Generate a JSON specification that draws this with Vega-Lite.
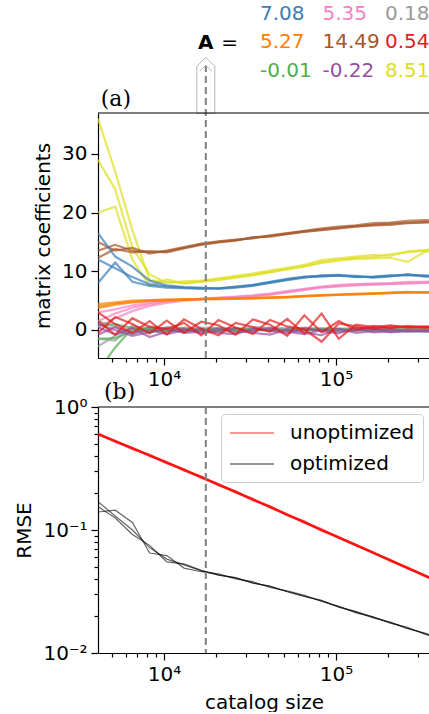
{
"$schema":"https://vega.github.io/schema/vega-lite/v6.json",
"background":"white",
"padding":{"left":14,"top":3,"right":0,"bottom":0},
"config":{"view":{"stroke":null},"font":"DejaVu Sans",
"axis":{"labelFont":"DejaVu Sans","titleFont":"DejaVu Sans","labelFontSize":20,"titleFontSize":20,"titleFontWeight":"normal","labelColor":"#000","titleColor":"#000","domainColor":"#000","tickColor":"#000","domainWidth":1.2,"tickWidth":1.2,"grid":false,"labelFlush":false,"labelOverlap":false},
"text":{"font":"DejaVu Sans"}},
"datasets":{
"matrix":[{"c":"A11","row":0,"col":0,"label":"7.08"},{"c":"A12","row":0,"col":1,"label":"5.35"},{"c":"A13","row":0,"col":2,"label":"0.18"},{"c":"A21","row":1,"col":0,"label":"5.27"},{"c":"A22","row":1,"col":1,"label":"14.49"},{"c":"A23","row":1,"col":2,"label":"0.54"},{"c":"A31","row":2,"col":0,"label":"-0.01"},{"c":"A32","row":2,"col":1,"label":"-0.22"},{"c":"A33","row":2,"col":2,"label":"8.51"}],
"coef":[
{"c":"A33","r":0,"n":4133,"v":36},{"c":"A33","r":0,"n":5203,"v":27},{"c":"A33","r":0,"n":6550,"v":17},{"c":"A33","r":0,"n":8246,"v":8.5},{"c":"A33","r":0,"n":10381,"v":8.2},{"c":"A33","r":0,"n":13069,"v":8},{"c":"A33","r":0,"n":16453,"v":8.3},{"c":"A33","r":0,"n":20713,"v":8.6},{"c":"A33","r":0,"n":26076,"v":9},{"c":"A33","r":0,"n":32827,"v":9.4},{"c":"A33","r":0,"n":41327,"v":9.9},{"c":"A33","r":0,"n":52028,"v":10.4},{"c":"A33","r":0,"n":65499,"v":10.9},{"c":"A33","r":0,"n":82459,"v":11.6},{"c":"A33","r":0,"n":103810,"v":12},{"c":"A33","r":0,"n":130690,"v":12.3},{"c":"A33","r":0,"n":164530,"v":12.4},{"c":"A33","r":0,"n":207130,"v":12.9},{"c":"A33","r":0,"n":260760,"v":13.2},{"c":"A33","r":0,"n":328280,"v":13.5},{"c":"A33","r":0,"n":413280,"v":13.8},
{"c":"A33","r":1,"n":4133,"v":29},{"c":"A33","r":1,"n":5203,"v":24},{"c":"A33","r":1,"n":6550,"v":14},{"c":"A33","r":1,"n":8246,"v":9.5},{"c":"A33","r":1,"n":10381,"v":8},{"c":"A33","r":1,"n":13069,"v":8.3},{"c":"A33","r":1,"n":16453,"v":8.4},{"c":"A33","r":1,"n":20713,"v":8.8},{"c":"A33","r":1,"n":26076,"v":9.2},{"c":"A33","r":1,"n":32827,"v":9.6},{"c":"A33","r":1,"n":41327,"v":10.1},{"c":"A33","r":1,"n":52028,"v":10.6},{"c":"A33","r":1,"n":65499,"v":11.1},{"c":"A33","r":1,"n":82459,"v":11.9},{"c":"A33","r":1,"n":103810,"v":12.2},{"c":"A33","r":1,"n":130690,"v":12.5},{"c":"A33","r":1,"n":164530,"v":12.8},{"c":"A33","r":1,"n":207130,"v":12.6},{"c":"A33","r":1,"n":260760,"v":13.4},{"c":"A33","r":1,"n":328280,"v":13.6},{"c":"A33","r":1,"n":413280,"v":13.9},
{"c":"A33","r":2,"n":4133,"v":20},{"c":"A33","r":2,"n":5203,"v":21},{"c":"A33","r":2,"n":6550,"v":12},{"c":"A33","r":2,"n":8246,"v":7.5},{"c":"A33","r":2,"n":10381,"v":8.6},{"c":"A33","r":2,"n":13069,"v":7.9},{"c":"A33","r":2,"n":16453,"v":8.2},{"c":"A33","r":2,"n":20713,"v":8.5},{"c":"A33","r":2,"n":26076,"v":8.9},{"c":"A33","r":2,"n":32827,"v":9.3},{"c":"A33","r":2,"n":41327,"v":9.8},{"c":"A33","r":2,"n":52028,"v":10.3},{"c":"A33","r":2,"n":65499,"v":10.8},{"c":"A33","r":2,"n":82459,"v":11.4},{"c":"A33","r":2,"n":103810,"v":11.8},{"c":"A33","r":2,"n":130690,"v":12.1},{"c":"A33","r":2,"n":164530,"v":12.2},{"c":"A33","r":2,"n":207130,"v":12.3},{"c":"A33","r":2,"n":260760,"v":11.6},{"c":"A33","r":2,"n":328280,"v":13.3},{"c":"A33","r":2,"n":413280,"v":13.6},
{"c":"A22","r":0,"n":4133,"v":13.5},{"c":"A22","r":0,"n":5203,"v":14.5},{"c":"A22","r":0,"n":6550,"v":13.5},{"c":"A22","r":0,"n":8246,"v":13.3},{"c":"A22","r":0,"n":10381,"v":13.4},{"c":"A22","r":0,"n":13069,"v":14},{"c":"A22","r":0,"n":16453,"v":14.6},{"c":"A22","r":0,"n":20713,"v":15},{"c":"A22","r":0,"n":26076,"v":15.3},{"c":"A22","r":0,"n":32827,"v":15.7},{"c":"A22","r":0,"n":41327,"v":16},{"c":"A22","r":0,"n":52028,"v":16.4},{"c":"A22","r":0,"n":65499,"v":16.8},{"c":"A22","r":0,"n":82459,"v":17.1},{"c":"A22","r":0,"n":103810,"v":17.4},{"c":"A22","r":0,"n":130690,"v":17.7},{"c":"A22","r":0,"n":164530,"v":17.9},{"c":"A22","r":0,"n":207130,"v":18.1},{"c":"A22","r":0,"n":260760,"v":18.3},{"c":"A22","r":0,"n":328280,"v":18.4},{"c":"A22","r":0,"n":413280,"v":18.5},
{"c":"A22","r":1,"n":4133,"v":15},{"c":"A22","r":1,"n":5203,"v":13.5},{"c":"A22","r":1,"n":6550,"v":14},{"c":"A22","r":1,"n":8246,"v":13},{"c":"A22","r":1,"n":10381,"v":13.5},{"c":"A22","r":1,"n":13069,"v":14.1},{"c":"A22","r":1,"n":16453,"v":14.7},{"c":"A22","r":1,"n":20713,"v":15.1},{"c":"A22","r":1,"n":26076,"v":15.4},{"c":"A22","r":1,"n":32827,"v":15.6},{"c":"A22","r":1,"n":41327,"v":16.1},{"c":"A22","r":1,"n":52028,"v":16.5},{"c":"A22","r":1,"n":65499,"v":16.9},{"c":"A22","r":1,"n":82459,"v":17.3},{"c":"A22","r":1,"n":103810,"v":17.6},{"c":"A22","r":1,"n":130690,"v":17.8},{"c":"A22","r":1,"n":164530,"v":18.2},{"c":"A22","r":1,"n":207130,"v":18.3},{"c":"A22","r":1,"n":260760,"v":18.6},{"c":"A22","r":1,"n":328280,"v":18.7},{"c":"A22","r":1,"n":413280,"v":18.6},
{"c":"A22","r":2,"n":4133,"v":12.3},{"c":"A22","r":2,"n":5203,"v":13.8},{"c":"A22","r":2,"n":6550,"v":13.2},{"c":"A22","r":2,"n":8246,"v":13.4},{"c":"A22","r":2,"n":10381,"v":13.2},{"c":"A22","r":2,"n":13069,"v":13.9},{"c":"A22","r":2,"n":16453,"v":14.5},{"c":"A22","r":2,"n":20713,"v":14.9},{"c":"A22","r":2,"n":26076,"v":15.2},{"c":"A22","r":2,"n":32827,"v":15.8},{"c":"A22","r":2,"n":41327,"v":15.9},{"c":"A22","r":2,"n":52028,"v":16.3},{"c":"A22","r":2,"n":65499,"v":16.7},{"c":"A22","r":2,"n":82459,"v":17},{"c":"A22","r":2,"n":103810,"v":17.3},{"c":"A22","r":2,"n":130690,"v":17.6},{"c":"A22","r":2,"n":164530,"v":17.8},{"c":"A22","r":2,"n":207130,"v":17.9},{"c":"A22","r":2,"n":260760,"v":18.2},{"c":"A22","r":2,"n":328280,"v":18.3},{"c":"A22","r":2,"n":413280,"v":18.4},
{"c":"A11","r":0,"n":4133,"v":12},{"c":"A11","r":0,"n":5203,"v":10.5},{"c":"A11","r":0,"n":6550,"v":9},{"c":"A11","r":0,"n":8246,"v":7.8},{"c":"A11","r":0,"n":10381,"v":7.4},{"c":"A11","r":0,"n":13069,"v":7.2},{"c":"A11","r":0,"n":16453,"v":7.1},{"c":"A11","r":0,"n":20713,"v":7.1},{"c":"A11","r":0,"n":26076,"v":7.3},{"c":"A11","r":0,"n":32827,"v":7.6},{"c":"A11","r":0,"n":41327,"v":8.1},{"c":"A11","r":0,"n":52028,"v":8.6},{"c":"A11","r":0,"n":65499,"v":9},{"c":"A11","r":0,"n":82459,"v":9.2},{"c":"A11","r":0,"n":103810,"v":9.2},{"c":"A11","r":0,"n":130690,"v":9.1},{"c":"A11","r":0,"n":164530,"v":9},{"c":"A11","r":0,"n":207130,"v":9.2},{"c":"A11","r":0,"n":260760,"v":9.4},{"c":"A11","r":0,"n":328280,"v":9.2},{"c":"A11","r":0,"n":413280,"v":9.1},
{"c":"A11","r":1,"n":4133,"v":16.5},{"c":"A11","r":1,"n":5203,"v":12.5},{"c":"A11","r":1,"n":6550,"v":10.8},{"c":"A11","r":1,"n":8246,"v":8.4},{"c":"A11","r":1,"n":10381,"v":7.6},{"c":"A11","r":1,"n":13069,"v":7.3},{"c":"A11","r":1,"n":16453,"v":7.2},{"c":"A11","r":1,"n":20713,"v":7},{"c":"A11","r":1,"n":26076,"v":7.2},{"c":"A11","r":1,"n":32827,"v":7.5},{"c":"A11","r":1,"n":41327,"v":8},{"c":"A11","r":1,"n":52028,"v":8.5},{"c":"A11","r":1,"n":65499,"v":8.9},{"c":"A11","r":1,"n":82459,"v":9.3},{"c":"A11","r":1,"n":103810,"v":9.4},{"c":"A11","r":1,"n":130690,"v":9},{"c":"A11","r":1,"n":164530,"v":9.1},{"c":"A11","r":1,"n":207130,"v":9.3},{"c":"A11","r":1,"n":260760,"v":9.3},{"c":"A11","r":1,"n":328280,"v":9.3},{"c":"A11","r":1,"n":413280,"v":9.2},
{"c":"A11","r":2,"n":4133,"v":8},{"c":"A11","r":2,"n":5203,"v":11.5},{"c":"A11","r":2,"n":6550,"v":8.2},{"c":"A11","r":2,"n":8246,"v":7.5},{"c":"A11","r":2,"n":10381,"v":7.2},{"c":"A11","r":2,"n":13069,"v":7.1},{"c":"A11","r":2,"n":16453,"v":7},{"c":"A11","r":2,"n":20713,"v":7.1},{"c":"A11","r":2,"n":26076,"v":7.4},{"c":"A11","r":2,"n":32827,"v":7.7},{"c":"A11","r":2,"n":41327,"v":8.2},{"c":"A11","r":2,"n":52028,"v":8.7},{"c":"A11","r":2,"n":65499,"v":9.1},{"c":"A11","r":2,"n":82459,"v":9.1},{"c":"A11","r":2,"n":103810,"v":9.3},{"c":"A11","r":2,"n":130690,"v":9.2},{"c":"A11","r":2,"n":164530,"v":8.9},{"c":"A11","r":2,"n":207130,"v":9.1},{"c":"A11","r":2,"n":260760,"v":9.5},{"c":"A11","r":2,"n":328280,"v":9.1},{"c":"A11","r":2,"n":413280,"v":9},
{"c":"A12","r":0,"n":4133,"v":1.5},{"c":"A12","r":0,"n":5203,"v":2.8},{"c":"A12","r":0,"n":6550,"v":3.8},{"c":"A12","r":0,"n":8246,"v":4.4},{"c":"A12","r":0,"n":10381,"v":4.8},{"c":"A12","r":0,"n":13069,"v":5.1},{"c":"A12","r":0,"n":16453,"v":5.3},{"c":"A12","r":0,"n":20713,"v":5.4},{"c":"A12","r":0,"n":26076,"v":5.6},{"c":"A12","r":0,"n":32827,"v":5.8},{"c":"A12","r":0,"n":41327,"v":6.1},{"c":"A12","r":0,"n":52028,"v":6.5},{"c":"A12","r":0,"n":65499,"v":6.9},{"c":"A12","r":0,"n":82459,"v":7.3},{"c":"A12","r":0,"n":103810,"v":7.5},{"c":"A12","r":0,"n":130690,"v":7.7},{"c":"A12","r":0,"n":164530,"v":7.8},{"c":"A12","r":0,"n":207130,"v":7.9},{"c":"A12","r":0,"n":260760,"v":8},{"c":"A12","r":0,"n":328280,"v":8.1},{"c":"A12","r":0,"n":413280,"v":8.2},
{"c":"A12","r":1,"n":4133,"v":3},{"c":"A12","r":1,"n":5203,"v":3.5},{"c":"A12","r":1,"n":6550,"v":4.2},{"c":"A12","r":1,"n":8246,"v":4.6},{"c":"A12","r":1,"n":10381,"v":5},{"c":"A12","r":1,"n":13069,"v":5.2},{"c":"A12","r":1,"n":16453,"v":5.3},{"c":"A12","r":1,"n":20713,"v":5.5},{"c":"A12","r":1,"n":26076,"v":5.7},{"c":"A12","r":1,"n":32827,"v":5.9},{"c":"A12","r":1,"n":41327,"v":6.2},{"c":"A12","r":1,"n":52028,"v":6.6},{"c":"A12","r":1,"n":65499,"v":7},{"c":"A12","r":1,"n":82459,"v":7.4},{"c":"A12","r":1,"n":103810,"v":7.7},{"c":"A12","r":1,"n":130690,"v":7.8},{"c":"A12","r":1,"n":164530,"v":7.9},{"c":"A12","r":1,"n":207130,"v":8},{"c":"A12","r":1,"n":260760,"v":8.2},{"c":"A12","r":1,"n":328280,"v":8.2},{"c":"A12","r":1,"n":413280,"v":8.3},
{"c":"A12","r":2,"n":4133,"v":0.5},{"c":"A12","r":2,"n":5203,"v":2},{"c":"A12","r":2,"n":6550,"v":3.2},{"c":"A12","r":2,"n":8246,"v":4.1},{"c":"A12","r":2,"n":10381,"v":4.6},{"c":"A12","r":2,"n":13069,"v":5},{"c":"A12","r":2,"n":16453,"v":5.2},{"c":"A12","r":2,"n":20713,"v":5.4},{"c":"A12","r":2,"n":26076,"v":5.5},{"c":"A12","r":2,"n":32827,"v":5.7},{"c":"A12","r":2,"n":41327,"v":6},{"c":"A12","r":2,"n":52028,"v":6.4},{"c":"A12","r":2,"n":65499,"v":6.8},{"c":"A12","r":2,"n":82459,"v":7.2},{"c":"A12","r":2,"n":103810,"v":7.4},{"c":"A12","r":2,"n":130690,"v":7.6},{"c":"A12","r":2,"n":164530,"v":7.7},{"c":"A12","r":2,"n":207130,"v":7.8},{"c":"A12","r":2,"n":260760,"v":7.9},{"c":"A12","r":2,"n":328280,"v":8},{"c":"A12","r":2,"n":413280,"v":8.1},
{"c":"A21","r":0,"n":4133,"v":4},{"c":"A21","r":0,"n":5203,"v":4.5},{"c":"A21","r":0,"n":6550,"v":4.8},{"c":"A21","r":0,"n":8246,"v":5},{"c":"A21","r":0,"n":10381,"v":5.1},{"c":"A21","r":0,"n":13069,"v":5.2},{"c":"A21","r":0,"n":16453,"v":5.25},{"c":"A21","r":0,"n":20713,"v":5.3},{"c":"A21","r":0,"n":26076,"v":5.35},{"c":"A21","r":0,"n":32827,"v":5.4},{"c":"A21","r":0,"n":41327,"v":5.5},{"c":"A21","r":0,"n":52028,"v":5.6},{"c":"A21","r":0,"n":65499,"v":5.75},{"c":"A21","r":0,"n":82459,"v":5.9},{"c":"A21","r":0,"n":103810,"v":6},{"c":"A21","r":0,"n":130690,"v":6.1},{"c":"A21","r":0,"n":164530,"v":6.2},{"c":"A21","r":0,"n":207130,"v":6.3},{"c":"A21","r":0,"n":260760,"v":6.4},{"c":"A21","r":0,"n":328280,"v":6.4},{"c":"A21","r":0,"n":413280,"v":6.5},
{"c":"A21","r":1,"n":4133,"v":4.4},{"c":"A21","r":1,"n":5203,"v":4.7},{"c":"A21","r":1,"n":6550,"v":5},{"c":"A21","r":1,"n":8246,"v":5.1},{"c":"A21","r":1,"n":10381,"v":5.2},{"c":"A21","r":1,"n":13069,"v":5.2},{"c":"A21","r":1,"n":16453,"v":5.3},{"c":"A21","r":1,"n":20713,"v":5.35},{"c":"A21","r":1,"n":26076,"v":5.4},{"c":"A21","r":1,"n":32827,"v":5.45},{"c":"A21","r":1,"n":41327,"v":5.55},{"c":"A21","r":1,"n":52028,"v":5.65},{"c":"A21","r":1,"n":65499,"v":5.8},{"c":"A21","r":1,"n":82459,"v":5.95},{"c":"A21","r":1,"n":103810,"v":6.05},{"c":"A21","r":1,"n":130690,"v":6.15},{"c":"A21","r":1,"n":164530,"v":6.25},{"c":"A21","r":1,"n":207130,"v":6.35},{"c":"A21","r":1,"n":260760,"v":6.5},{"c":"A21","r":1,"n":328280,"v":6.3},{"c":"A21","r":1,"n":413280,"v":6.4},
{"c":"A21","r":2,"n":4133,"v":3.7},{"c":"A21","r":2,"n":5203,"v":4.3},{"c":"A21","r":2,"n":6550,"v":4.7},{"c":"A21","r":2,"n":8246,"v":4.9},{"c":"A21","r":2,"n":10381,"v":5},{"c":"A21","r":2,"n":13069,"v":5.15},{"c":"A21","r":2,"n":16453,"v":5.2},{"c":"A21","r":2,"n":20713,"v":5.25},{"c":"A21","r":2,"n":26076,"v":5.3},{"c":"A21","r":2,"n":32827,"v":5.35},{"c":"A21","r":2,"n":41327,"v":5.45},{"c":"A21","r":2,"n":52028,"v":5.55},{"c":"A21","r":2,"n":65499,"v":5.7},{"c":"A21","r":2,"n":82459,"v":5.85},{"c":"A21","r":2,"n":103810,"v":5.95},{"c":"A21","r":2,"n":130690,"v":6.05},{"c":"A21","r":2,"n":164530,"v":6.15},{"c":"A21","r":2,"n":207130,"v":6.25},{"c":"A21","r":2,"n":260760,"v":6.35},{"c":"A21","r":2,"n":328280,"v":6.45},{"c":"A21","r":2,"n":413280,"v":6.5},
{"c":"A13","r":0,"n":4133,"v":-2.8},{"c":"A13","r":0,"n":5203,"v":-1},{"c":"A13","r":0,"n":6550,"v":0.5},{"c":"A13","r":0,"n":8246,"v":0.3},{"c":"A13","r":0,"n":10381,"v":0},{"c":"A13","r":0,"n":13069,"v":0.4},{"c":"A13","r":0,"n":16453,"v":0.2},{"c":"A13","r":0,"n":20713,"v":0.1},{"c":"A13","r":0,"n":26076,"v":0.3},{"c":"A13","r":0,"n":32827,"v":0.2},{"c":"A13","r":0,"n":41327,"v":0},{"c":"A13","r":0,"n":52028,"v":0.3},{"c":"A13","r":0,"n":65499,"v":0.2},{"c":"A13","r":0,"n":82459,"v":0.1},{"c":"A13","r":0,"n":103810,"v":0.2},{"c":"A13","r":0,"n":130690,"v":0.3},{"c":"A13","r":0,"n":164530,"v":0.2},{"c":"A13","r":0,"n":207130,"v":0.1},{"c":"A13","r":0,"n":260760,"v":0.2},{"c":"A13","r":0,"n":328280,"v":0.2},{"c":"A13","r":0,"n":413280,"v":0.2},
{"c":"A13","r":1,"n":4133,"v":1.5},{"c":"A13","r":1,"n":5203,"v":0.5},{"c":"A13","r":1,"n":6550,"v":-0.8},{"c":"A13","r":1,"n":8246,"v":0.6},{"c":"A13","r":1,"n":10381,"v":0.2},{"c":"A13","r":1,"n":13069,"v":-0.2},{"c":"A13","r":1,"n":16453,"v":0.4},{"c":"A13","r":1,"n":20713,"v":0.3},{"c":"A13","r":1,"n":26076,"v":-0.1},{"c":"A13","r":1,"n":32827,"v":0.5},{"c":"A13","r":1,"n":41327,"v":0.3},{"c":"A13","r":1,"n":52028,"v":0.1},{"c":"A13","r":1,"n":65499,"v":0.4},{"c":"A13","r":1,"n":82459,"v":0.2},{"c":"A13","r":1,"n":103810,"v":0.1},{"c":"A13","r":1,"n":130690,"v":0.2},{"c":"A13","r":1,"n":164530,"v":0.3},{"c":"A13","r":1,"n":207130,"v":0.2},{"c":"A13","r":1,"n":260760,"v":0.1},{"c":"A13","r":1,"n":328280,"v":0.2},{"c":"A13","r":1,"n":413280,"v":0.1},
{"c":"A13","r":2,"n":4133,"v":-1.5},{"c":"A13","r":2,"n":5203,"v":-1.8},{"c":"A13","r":2,"n":6550,"v":0.8},{"c":"A13","r":2,"n":8246,"v":-0.3},{"c":"A13","r":2,"n":10381,"v":0.5},{"c":"A13","r":2,"n":13069,"v":0.3},{"c":"A13","r":2,"n":16453,"v":0},{"c":"A13","r":2,"n":20713,"v":0.4},{"c":"A13","r":2,"n":26076,"v":0.2},{"c":"A13","r":2,"n":32827,"v":0.1},{"c":"A13","r":2,"n":41327,"v":0.4},{"c":"A13","r":2,"n":52028,"v":0.2},{"c":"A13","r":2,"n":65499,"v":0},{"c":"A13","r":2,"n":82459,"v":0.3},{"c":"A13","r":2,"n":103810,"v":0.2},{"c":"A13","r":2,"n":130690,"v":0.1},{"c":"A13","r":2,"n":164530,"v":0.2},{"c":"A13","r":2,"n":207130,"v":0.3},{"c":"A13","r":2,"n":260760,"v":0.2},{"c":"A13","r":2,"n":328280,"v":0.1},{"c":"A13","r":2,"n":413280,"v":0.2},
{"c":"A31","r":0,"n":4133,"v":-7},{"c":"A31","r":0,"n":5203,"v":-3},{"c":"A31","r":0,"n":6550,"v":0.3},{"c":"A31","r":0,"n":8246,"v":0},{"c":"A31","r":0,"n":10381,"v":-0.2},{"c":"A31","r":0,"n":13069,"v":0.1},{"c":"A31","r":0,"n":16453,"v":-0.1},{"c":"A31","r":0,"n":20713,"v":0},{"c":"A31","r":0,"n":26076,"v":0.1},{"c":"A31","r":0,"n":32827,"v":-0.1},{"c":"A31","r":0,"n":41327,"v":0},{"c":"A31","r":0,"n":52028,"v":-0.1},{"c":"A31","r":0,"n":65499,"v":0},{"c":"A31","r":0,"n":82459,"v":0.1},{"c":"A31","r":0,"n":103810,"v":-0.1},{"c":"A31","r":0,"n":130690,"v":0},{"c":"A31","r":0,"n":164530,"v":0},{"c":"A31","r":0,"n":207130,"v":-0.1},{"c":"A31","r":0,"n":260760,"v":0},{"c":"A31","r":0,"n":328280,"v":0},{"c":"A31","r":0,"n":413280,"v":0},
{"c":"A31","r":1,"n":4133,"v":-1.5},{"c":"A31","r":1,"n":5203,"v":-1.4},{"c":"A31","r":1,"n":6550,"v":-0.2},{"c":"A31","r":1,"n":8246,"v":0.4},{"c":"A31","r":1,"n":10381,"v":0.1},{"c":"A31","r":1,"n":13069,"v":-0.3},{"c":"A31","r":1,"n":16453,"v":0},{"c":"A31","r":1,"n":20713,"v":0.2},{"c":"A31","r":1,"n":26076,"v":-0.1},{"c":"A31","r":1,"n":32827,"v":0.1},{"c":"A31","r":1,"n":41327,"v":-0.1},{"c":"A31","r":1,"n":52028,"v":0},{"c":"A31","r":1,"n":65499,"v":0.1},{"c":"A31","r":1,"n":82459,"v":-0.1},{"c":"A31","r":1,"n":103810,"v":0},{"c":"A31","r":1,"n":130690,"v":0.1},{"c":"A31","r":1,"n":164530,"v":-0.1},{"c":"A31","r":1,"n":207130,"v":0},{"c":"A31","r":1,"n":260760,"v":0},{"c":"A31","r":1,"n":328280,"v":0},{"c":"A31","r":1,"n":413280,"v":-0.1},
{"c":"A31","r":2,"n":4133,"v":0.8},{"c":"A31","r":2,"n":5203,"v":1},{"c":"A31","r":2,"n":6550,"v":0.3},{"c":"A31","r":2,"n":8246,"v":-0.4},{"c":"A31","r":2,"n":10381,"v":0},{"c":"A31","r":2,"n":13069,"v":0.2},{"c":"A31","r":2,"n":16453,"v":-0.1},{"c":"A31","r":2,"n":20713,"v":-0.2},{"c":"A31","r":2,"n":26076,"v":0.1},{"c":"A31","r":2,"n":32827,"v":0},{"c":"A31","r":2,"n":41327,"v":0.1},{"c":"A31","r":2,"n":52028,"v":-0.1},{"c":"A31","r":2,"n":65499,"v":0},{"c":"A31","r":2,"n":82459,"v":0},{"c":"A31","r":2,"n":103810,"v":0.1},{"c":"A31","r":2,"n":130690,"v":-0.1},{"c":"A31","r":2,"n":164530,"v":0},{"c":"A31","r":2,"n":207130,"v":0.1},{"c":"A31","r":2,"n":260760,"v":-0.1},{"c":"A31","r":2,"n":328280,"v":0},{"c":"A31","r":2,"n":413280,"v":0},
{"c":"A32","r":0,"n":4133,"v":0.5},{"c":"A32","r":0,"n":5203,"v":-0.8},{"c":"A32","r":0,"n":6550,"v":0.3},{"c":"A32","r":0,"n":8246,"v":-1.2},{"c":"A32","r":0,"n":10381,"v":-0.3},{"c":"A32","r":0,"n":13069,"v":0.2},{"c":"A32","r":0,"n":16453,"v":-0.6},{"c":"A32","r":0,"n":20713,"v":-0.2},{"c":"A32","r":0,"n":26076,"v":0.3},{"c":"A32","r":0,"n":32827,"v":-0.5},{"c":"A32","r":0,"n":41327,"v":-0.8},{"c":"A32","r":0,"n":52028,"v":0.1},{"c":"A32","r":0,"n":65499,"v":-0.4},{"c":"A32","r":0,"n":82459,"v":-0.9},{"c":"A32","r":0,"n":103810,"v":0.2},{"c":"A32","r":0,"n":130690,"v":-0.5},{"c":"A32","r":0,"n":164530,"v":-0.2},{"c":"A32","r":0,"n":207130,"v":0.1},{"c":"A32","r":0,"n":260760,"v":-0.3},{"c":"A32","r":0,"n":328280,"v":-0.2},{"c":"A32","r":0,"n":413280,"v":-0.2},
{"c":"A32","r":1,"n":4133,"v":-0.8},{"c":"A32","r":1,"n":5203,"v":0.5},{"c":"A32","r":1,"n":6550,"v":-0.6},{"c":"A32","r":1,"n":8246,"v":0},{"c":"A32","r":1,"n":10381,"v":-0.7},{"c":"A32","r":1,"n":13069,"v":-0.1},{"c":"A32","r":1,"n":16453,"v":0.1},{"c":"A32","r":1,"n":20713,"v":-0.5},{"c":"A32","r":1,"n":26076,"v":-0.7},{"c":"A32","r":1,"n":32827,"v":0.2},{"c":"A32","r":1,"n":41327,"v":-0.1},{"c":"A32","r":1,"n":52028,"v":-0.6},{"c":"A32","r":1,"n":65499,"v":0.3},{"c":"A32","r":1,"n":82459,"v":-0.2},{"c":"A32","r":1,"n":103810,"v":-0.6},{"c":"A32","r":1,"n":130690,"v":0.4},{"c":"A32","r":1,"n":164530,"v":-0.4},{"c":"A32","r":1,"n":207130,"v":-0.3},{"c":"A32","r":1,"n":260760,"v":-0.1},{"c":"A32","r":1,"n":328280,"v":-0.3},{"c":"A32","r":1,"n":413280,"v":-0.2},
{"c":"A32","r":2,"n":4133,"v":1},{"c":"A32","r":2,"n":5203,"v":0},{"c":"A32","r":2,"n":6550,"v":-1},{"c":"A32","r":2,"n":8246,"v":-0.4},{"c":"A32","r":2,"n":10381,"v":0.3},{"c":"A32","r":2,"n":13069,"v":-0.5},{"c":"A32","r":2,"n":16453,"v":-0.3},{"c":"A32","r":2,"n":20713,"v":0.2},{"c":"A32","r":2,"n":26076,"v":-0.4},{"c":"A32","r":2,"n":32827,"v":-0.2},{"c":"A32","r":2,"n":41327,"v":0.3},{"c":"A32","r":2,"n":52028,"v":-0.3},{"c":"A32","r":2,"n":65499,"v":-0.7},{"c":"A32","r":2,"n":82459,"v":0},{"c":"A32","r":2,"n":103810,"v":-0.3},{"c":"A32","r":2,"n":130690,"v":-0.1},{"c":"A32","r":2,"n":164530,"v":0.3},{"c":"A32","r":2,"n":207130,"v":-0.4},{"c":"A32","r":2,"n":260760,"v":-0.2},{"c":"A32","r":2,"n":328280,"v":-0.1},{"c":"A32","r":2,"n":413280,"v":-0.3},
{"c":"A23","r":0,"n":4133,"v":3},{"c":"A23","r":0,"n":5203,"v":1},{"c":"A23","r":0,"n":6550,"v":-0.5},{"c":"A23","r":0,"n":8246,"v":1.5},{"c":"A23","r":0,"n":10381,"v":-0.8},{"c":"A23","r":0,"n":13069,"v":1.8},{"c":"A23","r":0,"n":16453,"v":0.2},{"c":"A23","r":0,"n":20713,"v":-0.9},{"c":"A23","r":0,"n":26076,"v":1.2},{"c":"A23","r":0,"n":32827,"v":0.5},{"c":"A23","r":0,"n":41327,"v":-0.3},{"c":"A23","r":0,"n":52028,"v":1.9},{"c":"A23","r":0,"n":65499,"v":-0.6},{"c":"A23","r":0,"n":82459,"v":2.8},{"c":"A23","r":0,"n":103810,"v":-1.5},{"c":"A23","r":0,"n":130690,"v":0.9},{"c":"A23","r":0,"n":164530,"v":0.5},{"c":"A23","r":0,"n":207130,"v":0.8},{"c":"A23","r":0,"n":260760,"v":0.4},{"c":"A23","r":0,"n":328280,"v":0.6},{"c":"A23","r":0,"n":413280,"v":0.5},
{"c":"A23","r":1,"n":4133,"v":-0.5},{"c":"A23","r":1,"n":5203,"v":2.2},{"c":"A23","r":1,"n":6550,"v":1},{"c":"A23","r":1,"n":8246,"v":-0.6},{"c":"A23","r":1,"n":10381,"v":1.6},{"c":"A23","r":1,"n":13069,"v":-0.5},{"c":"A23","r":1,"n":16453,"v":1.4},{"c":"A23","r":1,"n":20713,"v":0.8},{"c":"A23","r":1,"n":26076,"v":-0.8},{"c":"A23","r":1,"n":32827,"v":1.8},{"c":"A23","r":1,"n":41327,"v":0.9},{"c":"A23","r":1,"n":52028,"v":-1},{"c":"A23","r":1,"n":65499,"v":2.5},{"c":"A23","r":1,"n":82459,"v":-0.4},{"c":"A23","r":1,"n":103810,"v":1.5},{"c":"A23","r":1,"n":130690,"v":0},{"c":"A23","r":1,"n":164530,"v":0.7},{"c":"A23","r":1,"n":207130,"v":0.3},{"c":"A23","r":1,"n":260760,"v":0.7},{"c":"A23","r":1,"n":328280,"v":0.5},{"c":"A23","r":1,"n":413280,"v":0.6},
{"c":"A23","r":2,"n":4133,"v":1.5},{"c":"A23","r":2,"n":5203,"v":-0.8},{"c":"A23","r":2,"n":6550,"v":2},{"c":"A23","r":2,"n":8246,"v":0.5},{"c":"A23","r":2,"n":10381,"v":0.2},{"c":"A23","r":2,"n":13069,"v":1.2},{"c":"A23","r":2,"n":16453,"v":-0.9},{"c":"A23","r":2,"n":20713,"v":1.7},{"c":"A23","r":2,"n":26076,"v":0.4},{"c":"A23","r":2,"n":32827,"v":-0.7},{"c":"A23","r":2,"n":41327,"v":1.7},{"c":"A23","r":2,"n":52028,"v":0.6},{"c":"A23","r":2,"n":65499,"v":0.1},{"c":"A23","r":2,"n":82459,"v":-2},{"c":"A23","r":2,"n":103810,"v":1.1},{"c":"A23","r":2,"n":130690,"v":0.6},{"c":"A23","r":2,"n":164530,"v":0.2},{"c":"A23","r":2,"n":207130,"v":0.6},{"c":"A23","r":2,"n":260760,"v":0.5},{"c":"A23","r":2,"n":328280,"v":0.4},{"c":"A23","r":2,"n":413280,"v":0.5}
],
"rmse":[
{"g":"unoptimized","r":0,"n":4133,"v":0.603},{"g":"unoptimized","r":0,"n":5203,"v":0.527},{"g":"unoptimized","r":0,"n":6550,"v":0.461},{"g":"unoptimized","r":0,"n":8246,"v":0.404},{"g":"unoptimized","r":0,"n":10381,"v":0.353},{"g":"unoptimized","r":0,"n":13069,"v":0.308},{"g":"unoptimized","r":0,"n":16453,"v":0.269},{"g":"unoptimized","r":0,"n":20713,"v":0.234},{"g":"unoptimized","r":0,"n":26076,"v":0.204},{"g":"unoptimized","r":0,"n":32827,"v":0.177},{"g":"unoptimized","r":0,"n":41327,"v":0.154},{"g":"unoptimized","r":0,"n":52028,"v":0.133},{"g":"unoptimized","r":0,"n":65499,"v":0.116},{"g":"unoptimized","r":0,"n":82459,"v":0.1},{"g":"unoptimized","r":0,"n":103810,"v":0.0869},{"g":"unoptimized","r":0,"n":130690,"v":0.0753},{"g":"unoptimized","r":0,"n":164530,"v":0.0653},{"g":"unoptimized","r":0,"n":207130,"v":0.0566},{"g":"unoptimized","r":0,"n":260760,"v":0.0491},{"g":"unoptimized","r":0,"n":328280,"v":0.0426},{"g":"unoptimized","r":0,"n":413280,"v":0.0369},
{"g":"unoptimized","r":1,"n":4133,"v":0.61},{"g":"unoptimized","r":1,"n":5203,"v":0.522},{"g":"unoptimized","r":1,"n":6550,"v":0.466},{"g":"unoptimized","r":1,"n":8246,"v":0.4},{"g":"unoptimized","r":1,"n":10381,"v":0.357},{"g":"unoptimized","r":1,"n":13069,"v":0.305},{"g":"unoptimized","r":1,"n":16453,"v":0.272},{"g":"unoptimized","r":1,"n":20713,"v":0.232},{"g":"unoptimized","r":1,"n":26076,"v":0.206},{"g":"unoptimized","r":1,"n":32827,"v":0.175},{"g":"unoptimized","r":1,"n":41327,"v":0.156},{"g":"unoptimized","r":1,"n":52028,"v":0.132},{"g":"unoptimized","r":1,"n":65499,"v":0.117},{"g":"unoptimized","r":1,"n":82459,"v":0.099},{"g":"unoptimized","r":1,"n":103810,"v":0.0876},{"g":"unoptimized","r":1,"n":130690,"v":0.0749},{"g":"unoptimized","r":1,"n":164530,"v":0.0657},{"g":"unoptimized","r":1,"n":207130,"v":0.0563},{"g":"unoptimized","r":1,"n":260760,"v":0.0494},{"g":"unoptimized","r":1,"n":328280,"v":0.0424},{"g":"unoptimized","r":1,"n":413280,"v":0.0371},
{"g":"unoptimized","r":2,"n":4133,"v":0.597},{"g":"unoptimized","r":2,"n":5203,"v":0.531},{"g":"unoptimized","r":2,"n":6550,"v":0.457},{"g":"unoptimized","r":2,"n":8246,"v":0.408},{"g":"unoptimized","r":2,"n":10381,"v":0.35},{"g":"unoptimized","r":2,"n":13069,"v":0.311},{"g":"unoptimized","r":2,"n":16453,"v":0.266},{"g":"unoptimized","r":2,"n":20713,"v":0.236},{"g":"unoptimized","r":2,"n":26076,"v":0.202},{"g":"unoptimized","r":2,"n":32827,"v":0.179},{"g":"unoptimized","r":2,"n":41327,"v":0.153},{"g":"unoptimized","r":2,"n":52028,"v":0.134},{"g":"unoptimized","r":2,"n":65499,"v":0.115},{"g":"unoptimized","r":2,"n":82459,"v":0.101},{"g":"unoptimized","r":2,"n":103810,"v":0.0864},{"g":"unoptimized","r":2,"n":130690,"v":0.0757},{"g":"unoptimized","r":2,"n":164530,"v":0.065},{"g":"unoptimized","r":2,"n":207130,"v":0.0569},{"g":"unoptimized","r":2,"n":260760,"v":0.0488},{"g":"unoptimized","r":2,"n":328280,"v":0.0428},{"g":"unoptimized","r":2,"n":413280,"v":0.0367},
{"g":"optimized","r":0,"n":4133,"v":0.17},{"g":"optimized","r":0,"n":5203,"v":0.13},{"g":"optimized","r":0,"n":6550,"v":0.1},{"g":"optimized","r":0,"n":8246,"v":0.072},{"g":"optimized","r":0,"n":10381,"v":0.058},{"g":"optimized","r":0,"n":13069,"v":0.052},{"g":"optimized","r":0,"n":16453,"v":0.0468},{"g":"optimized","r":0,"n":20713,"v":0.0432},{"g":"optimized","r":0,"n":26076,"v":0.0408},{"g":"optimized","r":0,"n":32827,"v":0.0372},{"g":"optimized","r":0,"n":41327,"v":0.0348},{"g":"optimized","r":0,"n":52028,"v":0.0316},{"g":"optimized","r":0,"n":65499,"v":0.029},{"g":"optimized","r":0,"n":82459,"v":0.0268},{"g":"optimized","r":0,"n":103810,"v":0.0236},{"g":"optimized","r":0,"n":130690,"v":0.0216},{"g":"optimized","r":0,"n":164530,"v":0.0193},{"g":"optimized","r":0,"n":207130,"v":0.0178},{"g":"optimized","r":0,"n":260760,"v":0.0159},{"g":"optimized","r":0,"n":328280,"v":0.0144},{"g":"optimized","r":0,"n":413280,"v":0.0131},
{"g":"optimized","r":1,"n":4133,"v":0.14},{"g":"optimized","r":1,"n":5203,"v":0.145},{"g":"optimized","r":1,"n":6550,"v":0.115},{"g":"optimized","r":1,"n":8246,"v":0.065},{"g":"optimized","r":1,"n":10381,"v":0.062},{"g":"optimized","r":1,"n":13069,"v":0.049},{"g":"optimized","r":1,"n":16453,"v":0.0458},{"g":"optimized","r":1,"n":20713,"v":0.044},{"g":"optimized","r":1,"n":26076,"v":0.04},{"g":"optimized","r":1,"n":32827,"v":0.038},{"g":"optimized","r":1,"n":41327,"v":0.0341},{"g":"optimized","r":1,"n":52028,"v":0.032},{"g":"optimized","r":1,"n":65499,"v":0.0295},{"g":"optimized","r":1,"n":82459,"v":0.0262},{"g":"optimized","r":1,"n":103810,"v":0.024},{"g":"optimized","r":1,"n":130690,"v":0.0212},{"g":"optimized","r":1,"n":164530,"v":0.0197},{"g":"optimized","r":1,"n":207130,"v":0.0175},{"g":"optimized","r":1,"n":260760,"v":0.0162},{"g":"optimized","r":1,"n":328280,"v":0.0142},{"g":"optimized","r":1,"n":413280,"v":0.0129},
{"g":"optimized","r":2,"n":4133,"v":0.155},{"g":"optimized","r":2,"n":5203,"v":0.125},{"g":"optimized","r":2,"n":6550,"v":0.092},{"g":"optimized","r":2,"n":8246,"v":0.075},{"g":"optimized","r":2,"n":10381,"v":0.055},{"g":"optimized","r":2,"n":13069,"v":0.053},{"g":"optimized","r":2,"n":16453,"v":0.047},{"g":"optimized","r":2,"n":20713,"v":0.043},{"g":"optimized","r":2,"n":26076,"v":0.041},{"g":"optimized","r":2,"n":32827,"v":0.037},{"g":"optimized","r":2,"n":41327,"v":0.035},{"g":"optimized","r":2,"n":52028,"v":0.0315},{"g":"optimized","r":2,"n":65499,"v":0.0288},{"g":"optimized","r":2,"n":82459,"v":0.0266},{"g":"optimized","r":2,"n":103810,"v":0.0237},{"g":"optimized","r":2,"n":130690,"v":0.0217},{"g":"optimized","r":2,"n":164530,"v":0.0196},{"g":"optimized","r":2,"n":207130,"v":0.0176},{"g":"optimized","r":2,"n":260760,"v":0.0158},{"g":"optimized","r":2,"n":328280,"v":0.0145},{"g":"optimized","r":2,"n":413280,"v":0.013}
]},
"vconcat":[
{"width":332,"height":245,
 "layer":[
  {"layer":[
   {"data":{"name":"coef"},
    "mark":{"type":"line","strokeWidth":2.2,"opacity":0.7,"clip":true},
    "encoding":{
     "x":{"field":"n","type":"quantitative","scale":{"type":"log","domain":[4133,352000],"nice":false},
      "axis":{"title":null,"values":[5000,6000,7000,8000,9000,10000,20000,30000,40000,50000,60000,70000,80000,90000,100000,200000,300000],
       "labelExpr":"datum.value == 10000 ? '10⁴' : datum.value == 100000 ? '10⁵' : ''",
       "tickSize":{"condition":{"test":"datum.value == 10000 || datum.value == 100000","value":7},"value":4},"labelPadding":4}},
     "y":{"field":"v","type":"quantitative","scale":{"domain":[-4.78,36.96],"nice":false,"zero":false},
      "axis":{"title":"matrix coefficients","values":[0,10,20,30],"tickSize":7,"labelPadding":4,"titlePadding":8}},
     "color":{"field":"c","type":"nominal","legend":null,
      "scale":{"domain":["A11","A12","A13","A21","A22","A23","A31","A32","A33"],"range":["#377eb8","#f781bf","#999999","#ff7f00","#a65628","#e41a1c","#4daf4a","#984ea3","#dede1e"]}},
     "detail":{"field":"r"}}},
   {"data":{"values":[{"n":17500}]},
    "mark":{"type":"point","shape":"M0,-1L0.321,-0.679L0.321,1L-0.321,1L-0.321,-0.679Z M-0.214,-0.5L0,-0.714L0.214,-0.5","size":3136,"filled":true,"fill":"white","stroke":"#b5b5b5","strokeWidth":1,"opacity":1,"clip":false},
    "encoding":{"x":{"field":"n","type":"quantitative","title":null},"y":{"datum":41.67}}},
   {"data":{"values":[{"n":17500}]},
    "mark":{"type":"rule","color":"#808080","strokeWidth":2,"strokeDash":[7,4],"clip":false},
    "encoding":{"x":{"field":"n","type":"quantitative","title":null},"y":{"datum":-4.78},"y2":{"datum":45}}},
   {"data":{"values":[{}]},"mark":{"type":"rule","color":"#000","strokeWidth":1.2},"encoding":{"y":{"datum":36.96}}},
   {"data":{"values":[{"n":17500,"t":"A"}]},
    "mark":{"type":"text","fontWeight":"bold","fontSize":20,"align":"center","baseline":"middle","color":"#000","clip":false},
    "encoding":{"x":{"field":"n","type":"quantitative","title":null},"y":{"datum":48.93},"text":{"field":"t"}}},
   {"data":{"values":[{"t":"="}]},
    "mark":{"type":"text","fontSize":20,"align":"center","baseline":"middle","color":"#000","clip":false},
    "encoding":{"x":{"datum":24040},"y":{"datum":48.93},"text":{"field":"t"}}},
   {"data":{"values":[{"t":"(a)"}]},
    "mark":{"type":"text","font":"DejaVu Serif","fontSize":22,"align":"left","baseline":"alphabetic","color":"#000","clip":false},
    "encoding":{"x":{"datum":4290},"y":{"datum":38.19},"text":{"field":"t"}}}
  ]},
  {"data":{"name":"matrix"},
   "mark":{"type":"text","align":"left","baseline":"middle","fontSize":20,"clip":false},
   "encoding":{
    "x":{"field":"col","type":"quantitative","scale":{"domain":[-2.592,2.72],"nice":false,"zero":false},"axis":null},
    "y":{"field":"row","type":"quantitative","scale":{"domain":[3.481,12.063],"reverse":true,"nice":false,"zero":false},"axis":null},
    "text":{"field":"label"},
    "color":{"field":"c","type":"nominal","legend":null,
      "scale":{"domain":["A11","A12","A13","A21","A22","A23","A31","A32","A33"],"range":["#377eb8","#f781bf","#999999","#ff7f00","#a65628","#e41a1c","#4daf4a","#984ea3","#dede1e"]}}}}
 ],
 "resolve":{"scale":{"x":"independent","y":"independent"},"axis":{"x":"independent","y":"independent"}}
},
{"width":332,"height":246,
 "layer":[
  {"data":{"name":"rmse"},
   "mark":{"type":"line","opacity":0.6,"clip":true},
   "encoding":{
    "x":{"field":"n","type":"quantitative","title":"catalog size","scale":{"type":"log","domain":[4133,352000],"nice":false},
     "axis":{"title":"catalog size","titlePadding":8,"values":[5000,6000,7000,8000,9000,10000,20000,30000,40000,50000,60000,70000,80000,90000,100000,200000,300000],
      "labelExpr":"datum.value == 10000 ? '10⁴' : datum.value == 100000 ? '10⁵' : ''",
      "tickSize":{"condition":{"test":"datum.value == 10000 || datum.value == 100000","value":7},"value":4},"labelPadding":4}},
    "y":{"field":"v","type":"quantitative","scale":{"type":"log","domain":[0.01,1],"nice":false},
     "axis":{"title":"RMSE","titlePadding":8,"values":[0.01,0.02,0.03,0.04,0.05,0.06,0.07,0.08,0.09,0.1,0.2,0.3,0.4,0.5,0.6,0.7,0.8,0.9,1],
      "labelExpr":"datum.value == 1 ? '10⁰' : datum.value == 0.1 ? '10⁻¹' : datum.value == 0.01 ? '10⁻²' : ''",
      "tickSize":{"condition":{"test":"datum.value == 1 || datum.value == 0.1 || datum.value == 0.01","value":7},"value":4},"labelPadding":4}},
    "color":{"field":"g","type":"nominal","scale":{"domain":["unoptimized","optimized"],"range":["#ff0000","#000000"]},
     "legend":{"title":null,"orient":"top-right","offset":7,"symbolType":"M-1,0H3.4","symbolSize":400,"symbolStrokeWidth":1.5,"symbolOpacity":0.55,
      "labelFontSize":20,"labelFont":"DejaVu Sans","labelColor":"#000","labelOffset":39,"padding":8,"rowPadding":10,
      "strokeColor":"#cccccc","fillColor":"rgba(255,255,255,0.85)","cornerRadius":4,
      "encode":{"symbols":{"update":{"strokeWidth":{"value":1.3}}}}}},
    "strokeWidth":{"field":"g","type":"nominal","scale":{"domain":["unoptimized","optimized"],"range":[2.4,1.2]},"legend":null},
    "detail":{"field":"r"}}},
  {"data":{"values":[{}]},"mark":{"type":"rule","color":"#000","strokeWidth":1.2},"encoding":{"y":{"datum":1}}},
  {"data":{"values":[{"n":17500}]},
   "mark":{"type":"rule","color":"#808080","strokeWidth":2,"strokeDash":[7,4]},
   "encoding":{"x":{"field":"n","type":"quantitative","title":"catalog size"}}},
  {"data":{"values":[{"t":"(b)"}]},
   "mark":{"type":"text","font":"DejaVu Serif","fontSize":22,"align":"left","baseline":"alphabetic","color":"#000","clip":false},
   "encoding":{"x":{"datum":4480},"y":{"datum":1.151},"text":{"field":"t"}}}
 ]
}
],
"spacing":49,
"bounds":"flush",
"resolve":{"scale":{"color":"independent","x":"independent","y":"independent"},"legend":{"color":"independent"}}
}
